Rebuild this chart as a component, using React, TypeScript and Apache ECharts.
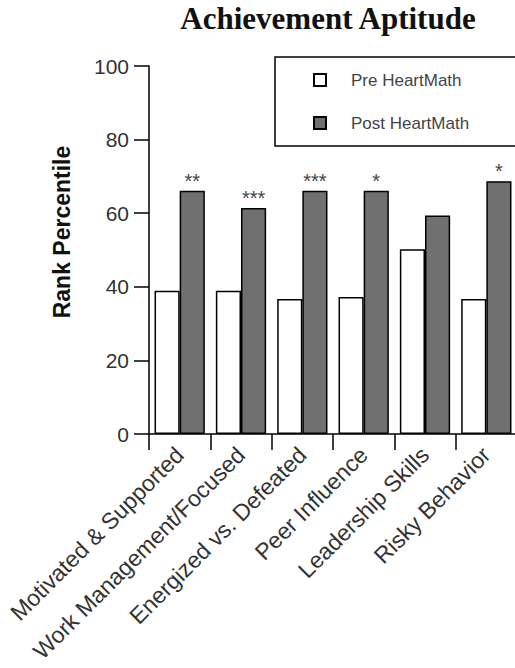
import React, { useEffect, useRef } from "react";
import * as echarts from "echarts";

const categories = [
  "Motivated & Supported",
  "Work Management/Focused",
  "Energized vs. Defeated",
  "Peer Influence",
  "Leadership Skills",
  "Risky Behavior",
];
const preValues = [38.9, 38.9, 36.7, 37.2, 50.2, 36.7];
const postValues = [66.1, 61.4, 66.1, 66.1, 59.4, 68.7];
const significance = ["**", "***", "***", "*", "", "*"];
const seriesNames = ["Pre HeartMath", "Post HeartMath"];
const yTicks = { min: 0, max: 100, interval: 20 };

const SANS = "'Liberation Sans', Arial, Helvetica, sans-serif";
const SERIF = "'Liberation Serif', 'Times New Roman', serif";

export default function App() {
  const ref = useRef<HTMLDivElement>(null);
  useEffect(() => {
    if (!ref.current) return;
    const chart = echarts.init(ref.current, null, { renderer: "svg" });
    chart.setOption({
      animation: false,
      backgroundColor: "#ffffff",
      graphic: [
        {
          type: "text",
          x: 328,
          y: 3,
          style: {
            text: "Achievement Aptitude",
            font: `bold 31px ${SERIF}`,
            fill: "#111",
            textAlign: "center",
            textVerticalAlign: "top",
          },
        },
      ],
      legend: {
        orient: "vertical",
        left: 275,
        top: 57,
        data: seriesNames,
        icon: "rect",
        itemWidth: 12,
        itemHeight: 12,
        itemGap: 23,
        borderColor: "#000",
        borderWidth: 1.5,
        padding: [13, 49, 13, 38],
        textStyle: {
          fontFamily: SANS,
          fontSize: 17,
          color: "#444",
          lineHeight: 20,
          padding: [0, 0, 0, 20],
        },
      },
      grid: { left: 149, top: 66, width: 368, height: 368 },
      xAxis: {
        type: "category",
        data: categories,
        boundaryGap: true,
        axisLine: { lineStyle: { color: "#000", width: 1.5 } },
        axisTick: { show: true, length: 16, lineStyle: { color: "#000", width: 1.5 } },
        axisLabel: {
          interval: 0,
          rotate: 45,
          fontFamily: SANS,
          fontSize: 23,
          color: "#333",
          margin: 17,
          padding: [37, 0, 0, 0],
        },
      },
      yAxis: {
        type: "value",
        min: yTicks.min,
        max: yTicks.max,
        interval: yTicks.interval,
        splitLine: { show: false },
        axisLine: { show: true, lineStyle: { color: "#000", width: 1.5 } },
        axisTick: { show: true, length: 15, lineStyle: { color: "#000", width: 1.5 } },
        axisLabel: { fontFamily: SANS, fontSize: 21, color: "#333", margin: 20 },
        name: "Rank Percentile",
        nameLocation: "middle",
        nameGap: 76,
        nameRotate: 90,
        nameTextStyle: {
          fontFamily: SANS,
          fontSize: 23,
          fontWeight: "bold",
          color: "#111",
          padding: [0, 0, 0, 36],
        },
      },
      series: [
        {
          name: seriesNames[0],
          type: "bar",
          data: preValues,
          barGap: "0%",
          barCategoryGap: "18%",
          itemStyle: { color: "#ffffff", borderColor: "#000", borderWidth: 1.5 },
        },
        {
          name: seriesNames[1],
          type: "bar",
          data: postValues,
          barGap: "0%",
          barCategoryGap: "18%",
          itemStyle: { color: "#707070", borderColor: "#000", borderWidth: 1.5 },
          label: {
            show: true,
            position: "top",
            distance: 0,
            fontFamily: SANS,
            fontSize: 20,
            color: "#444",
            formatter: (p: any) => significance[p.dataIndex],
          },
        },
      ],
    });
    return () => chart.dispose();
  }, []);
  return (
    <div style={{ position: "fixed", left: 0, top: 0, width: 515, height: 668, overflow: "hidden", background: "#fff" }}>
      <div ref={ref} style={{ width: 530, height: 668 }} />
    </div>
  );
}
